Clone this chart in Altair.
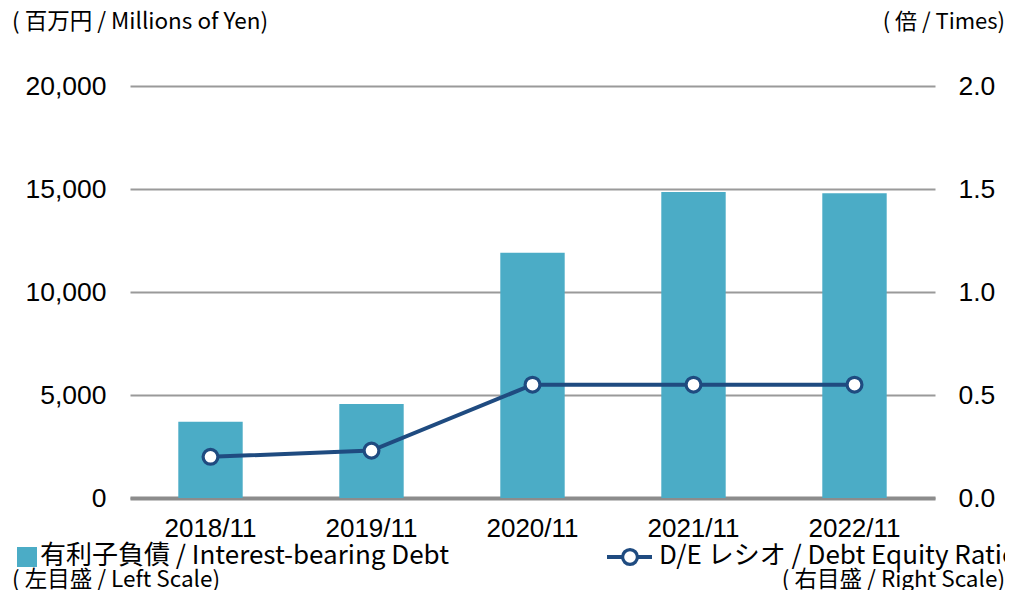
import altair as alt
import pandas as pd

years = ["2018/11", "2019/11", "2020/11", "2021/11", "2022/11"]
debt = [3700, 4560, 11900, 14850, 14790]
de_ratio = [0.20, 0.23, 0.55, 0.55, 0.55]

df = pd.DataFrame({"year": years, "debt": debt, "de": de_ratio})

FONT = "Noto Sans CJK JP"
NUM = "Liberation Sans"
BAR = "#4BACC6"
LINE = "#1F4B80"

W, H = 805, 412

x = alt.X("year:N", sort=years, title=None,
          scale=alt.Scale(paddingInner=0.6, paddingOuter=0.3),
          axis=alt.Axis(labelAngle=0, labelFontSize=26, labelColor="#000", labelFont=NUM,
                        labelPadding=17, ticks=False, domainColor="#8c8c8c", domainWidth=4))

bars = alt.Chart(df).mark_bar(color=BAR).encode(
    x=x,
    y=alt.Y("debt:Q", title=None,
            scale=alt.Scale(domain=[0, 20000]),
            axis=alt.Axis(values=[0, 5000, 10000, 15000, 20000], format=",.0f",
                          labelFontSize=26.5, labelColor="#000", labelFont=NUM,
                          labelPadding=24, ticks=False, domain=False,
                          grid=True, gridColor="#9a9a9a", gridWidth=2)),
)

yr = alt.Y("de:Q", title=None, scale=alt.Scale(domain=[0, 2.0]),
           axis=alt.Axis(orient="right", values=[0, 0.5, 1.0, 1.5, 2.0], format=".1f",
                         labelFontSize=26.5, labelColor="#000", labelFont=NUM,
                         labelPadding=23, ticks=False, domain=False, grid=False))

line = alt.Chart(df).mark_line(color=LINE, strokeWidth=4).encode(x=x, y=yr)
points = alt.Chart(df).mark_point(shape="circle", filled=True, fill="white", stroke=LINE,
                                  strokeWidth=3.2, size=220, opacity=1).encode(x=x, y=yr)

right = alt.layer(line, points)

one = pd.DataFrame({"a": [0]})

def label(txt, px, py, size, align="left"):
    return alt.Chart(one).mark_text(text=txt, font=FONT, fontSize=size, color="#000",
                                    align=align, baseline="middle").encode(
        x=alt.value(px), y=alt.value(py))

texts = [
    label("( 百万円 / Millions of Yen)", 12 - 130, 22 - 86, 22.5),
    label("( 倍 / Times)", 1005 - 130, 22 - 86, 22, align="right"),
    label("有利子負債 / Interest-bearing Debt", 40 - 130, 556 - 86, 26),
    label("( 左目盛 / Left Scale)", 12 - 130, 580 - 86, 22.5),
    label("D/E レシオ / Debt Equity Ratio", 659 - 130, 556 - 86, 26),
    label("( 右目盛 / Right Scale)", 1005 - 130, 580 - 86, 22.5, align="right"),
]

legend_sq = alt.Chart(one).mark_square(color=BAR, size=400, opacity=1).encode(
    x=alt.value(27 - 130), y=alt.value(557 - 86))
legend_line = alt.Chart(one).mark_rule(color=LINE, strokeWidth=4).encode(
    x=alt.value(607 - 130), x2=alt.value(652 - 130), y=alt.value(557 - 86))
legend_pt = alt.Chart(one).mark_point(shape="circle", filled=True, fill="white", stroke=LINE,
                                      strokeWidth=3.2, size=220, opacity=1).encode(
    x=alt.value(630 - 130), y=alt.value(557 - 86))

chart = alt.layer(bars, right, legend_sq, legend_line, legend_pt, *texts).resolve_scale(
    y="independent"
).properties(
    width=W, height=H,
    autosize=alt.AutoSizeParams(type="none"),
    padding={"left": 122, "top": 78, "right": 70, "bottom": 92},
).configure_view(stroke=None)

chart.save("out.html", embed_options={"renderer": "svg", "actions": False})
